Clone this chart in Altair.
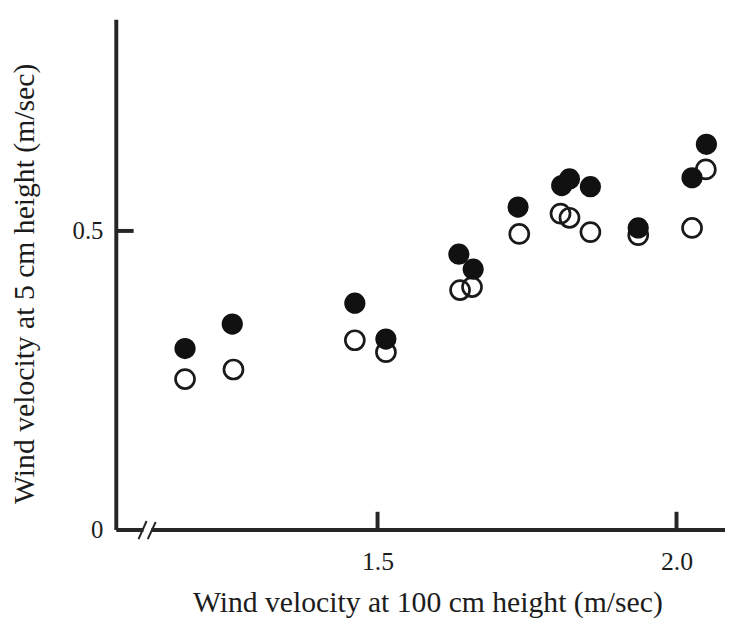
import altair as alt
import pandas as pd

# ---- data ----
solid_x = [1.178, 1.257, 1.462, 1.514, 1.636, 1.660, 1.735, 1.808, 1.821, 1.856, 1.936, 2.026, 2.050]
solid_y = [0.303, 0.344, 0.379, 0.319, 0.461, 0.436, 0.540, 0.576, 0.587, 0.574, 0.505, 0.589, 0.645]
open_x = [1.178, 1.259, 1.462, 1.514, 1.638, 1.658, 1.737, 1.806, 1.821, 1.856, 1.936, 2.026, 2.049]
open_y = [0.252, 0.268, 0.317, 0.297, 0.401, 0.406, 0.495, 0.529, 0.522, 0.498, 0.493, 0.505, 0.603]
x_tick_values = [1.5, 2.0]
y_tick_values = [0, 0.5]
y_inner_ticks = [0.5]

X_TITLE = "Wind velocity at 100 cm height (m/sec)"
Y_TITLE = "Wind velocity at 5 cm height (m/sec)"

X_MIN, X_MAX = 1.0622, 2.0811
Y_MIN, Y_MAX = 0.0, 0.8543
TICK_LEN = 0.0298  # inward tick length in data units

solid_df = pd.DataFrame({"x": solid_x, "y": solid_y})
open_df = pd.DataFrame({"x": open_x, "y": open_y})
xt_df = pd.DataFrame({"t": x_tick_values})
yt_df = pd.DataFrame({"t": y_inner_ticks})

AX = "#262626"
TXT = "#1c1c1c"
FONT = "Liberation Serif"

xscale = alt.Scale(domain=[X_MIN, X_MAX], nice=False, zero=False)
yscale = alt.Scale(domain=[Y_MIN, Y_MAX], nice=False, zero=False)

x_axis = alt.Axis(
    values=x_tick_values, format=".1f", ticks=False, grid=False,
    domainWidth=4, domainColor=AX, labelFontSize=26, labelFont=FONT,
    labelColor=TXT, labelPadding=40, labelBaseline="alphabetic",
    labelFlush=False, title=X_TITLE, titleFont=FONT, titleFontSize=30,
    titleFontWeight="normal", titleColor=TXT, titleX=315, titleY=83,
    titleBaseline="alphabetic", titleAlign="center",
)
y_axis = alt.Axis(
    values=y_tick_values, format="~g", ticks=False, grid=False,
    domainWidth=4, domainColor=AX, labelFontSize=25, labelFont=FONT,
    labelColor=TXT, labelPadding=13, labelFlush=False,
    title=Y_TITLE, titleFont=FONT, titleFontSize=30, titleFontWeight="normal",
    titleColor=TXT, titleX=-92, titleY=267, titleAngle=270,
    titleBaseline="middle", titleAlign="center",
)

open_layer = alt.Chart(open_df).mark_point(
    shape="circle", filled=False, size=370, strokeWidth=2.7, color="#1a1a1a", opacity=1
).encode(
    x=alt.X("x:Q", scale=xscale, axis=x_axis),
    y=alt.Y("y:Q", scale=yscale, axis=y_axis),
)

solid_layer = alt.Chart(solid_df).mark_circle(
    size=460, color="#111111", opacity=1
).encode(
    x=alt.X("x:Q", scale=xscale),
    y=alt.Y("y:Q", scale=yscale),
)

x_ticks = alt.Chart(xt_df).mark_rule(color=AX, strokeWidth=4).encode(
    x=alt.X("t:Q", scale=xscale),
    y=alt.datum(0),
    y2=alt.datum(TICK_LEN),
)

y_ticks = alt.Chart(yt_df).mark_rule(color=AX, strokeWidth=4).encode(
    y=alt.Y("t:Q", scale=yscale),
    x=alt.datum(X_MIN),
    x2=alt.datum(X_MIN + TICK_LEN),
)

# axis break "//"
gap = alt.Chart(pd.DataFrame({"a": [0]})).mark_rect(color="white").encode(
    x=alt.datum(1.1085), x2=alt.datum(1.1218),
    y=alt.datum(-0.0055), y2=alt.datum(0.0055),
)
slashes = alt.Chart(pd.DataFrame({
    "xa": [1.1002, 1.1156], "xb": [1.1137, 1.1289],
    "ya": [-0.016, -0.016], "yb": [0.0144, 0.0127],
})).mark_rule(color=AX, strokeWidth=2).encode(
    x=alt.X("xa:Q", scale=xscale), x2="xb:Q",
    y=alt.Y("ya:Q", scale=yscale), y2="yb:Q",
)

chart = alt.layer(
    open_layer, solid_layer, x_ticks, y_ticks, gap, slashes
).properties(
    width=616, height=516,
    autosize=alt.AutoSizeParams(type="none"),
    padding={"left": 109, "top": 8, "right": 0, "bottom": 88},
    background="white",
).configure_view(stroke="transparent")

chart.save("out.html", embed_options={"renderer": "svg", "actions": False})
